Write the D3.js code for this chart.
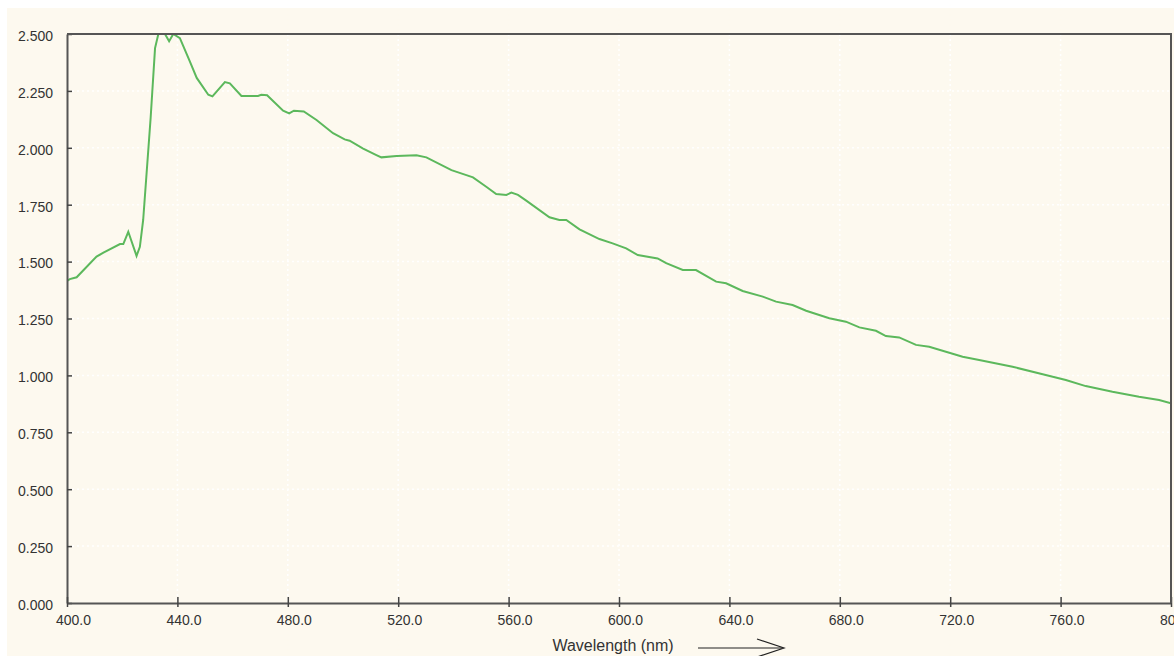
<!DOCTYPE html>
<html>
<head>
<meta charset="utf-8">
<script src="https://cdn.jsdelivr.net/npm/d3@7"></script>
<style>
  body { margin: 0; background: #ffffff; }
  svg { display: block; }
  text { font-family: "Liberation Sans", Arial, sans-serif; fill: #333333; }
</style>
</head>
<body>
<svg id="chart" width="1174" height="656"></svg>
<script>
// spectrum
var wavelengths = [400, 401, 403.5, 410.7, 413.2, 419.2, 420.4, 422.2, 425.2, 426.4, 427.6, 430.3, 431.9, 433.1,
  435.5, 437.0, 438.5, 440.9, 444.5, 447.0, 451.2, 452.7, 457.2, 459.0, 463.2, 469.2, 470.4, 472.5,
  478.3, 480.5, 482.2, 485.8, 490.4, 496.4, 500.6, 502.4, 507.3, 512.1, 513.9, 519.4, 526.6, 530.2,
  539.3, 544.7, 547.1, 551.9, 555.5, 559.2, 561.0, 563.4, 566.4, 574.8, 578.4, 580.9, 585.7, 592.9,
  597.7, 602.6, 606.8, 614.0, 617.1, 623.1, 627.9, 635.2, 638.8, 644.8, 652.1, 656.9, 662.9, 667.8,
  676.2, 682.2, 687.1, 693.1, 696.7, 701.5, 707.6, 712.4, 724.5, 730.5, 742.6, 754.6, 761.9, 769.1,
  778.8, 788.4, 795.7, 800];
var absorbance = [1.415, 1.423, 1.431, 1.522, 1.539, 1.577, 1.577, 1.631, 1.525, 1.565, 1.683, 2.131, 2.438, 2.5,
  2.5, 2.468, 2.5, 2.482, 2.380, 2.307, 2.233, 2.226, 2.289, 2.283, 2.228, 2.228, 2.233, 2.231,
  2.163, 2.151, 2.163, 2.160, 2.122, 2.064, 2.037, 2.031, 1.996, 1.968, 1.958, 1.964, 1.967, 1.958,
  1.902, 1.880, 1.870, 1.829, 1.797, 1.793, 1.803, 1.793, 1.768, 1.695, 1.683, 1.683, 1.642, 1.599,
  1.580, 1.558, 1.529, 1.514, 1.493, 1.463, 1.463, 1.412, 1.405, 1.371, 1.346, 1.324, 1.309, 1.284,
  1.251, 1.236, 1.211, 1.196, 1.173, 1.167, 1.134, 1.126, 1.082, 1.068, 1.038, 1.002, 0.980, 0.953,
  0.928, 0.906, 0.892, 0.878];

var xTicks = [400, 440, 480, 520, 560, 600, 640, 680, 720, 760, 800];
var yTicks = [0, 0.25, 0.5, 0.75, 1, 1.25, 1.5, 1.75, 2, 2.25, 2.5];
var xTitle = "Wavelength (nm)";

var svg = d3.select("#chart");
// note: not "top", that one is taken by window.top
var plotLeft = 67, plotRight = 1171, plotTop = 34, plotBottom = 603;

var x = d3.scaleLinear().domain([400, 800]).range([plotLeft, plotRight]);
var y = d3.scaleLinear().domain([0, 2.5]).range([plotBottom, plotTop]);

// cream panel
svg.append("rect")
  .attr("x", 7).attr("y", 8)
  .attr("width", 1174 - 7).attr("height", 656 - 8)
  .style("fill", "#fdf9ef");

// faint dotted grid
svg.append("g").selectAll("line").data(xTicks.slice(1, -1)).enter().append("line")
  .attr("x1", function(d) { return x(d); }).attr("x2", function(d) { return x(d); })
  .attr("y1", plotTop).attr("y2", plotBottom)
  .style("stroke", "#ffffff").style("stroke-width", 1.5).style("stroke-dasharray", "2,3");
svg.append("g").selectAll("line").data(yTicks.slice(1, -1)).enter().append("line")
  .attr("x1", plotLeft).attr("x2", plotRight)
  .attr("y1", function(d) { return y(d); }).attr("y2", function(d) { return y(d); })
  .style("stroke", "#ffffff").style("stroke-width", 1.5).style("stroke-dasharray", "2,3");

// spectrum line
var pts = wavelengths.map(function(w, i) { return [w, absorbance[i]]; });
svg.append("clipPath").attr("id", "plotclip").append("rect")
  .attr("x", plotLeft).attr("y", plotTop)
  .attr("width", plotRight - plotLeft).attr("height", plotBottom - plotTop);
svg.append("path")
  .datum(pts)
  .attr("clip-path", "url(#plotclip)")
  .attr("d", d3.line().x(function(d) { return x(d[0]); }).y(function(d) { return y(d[1]); }))
  .style("fill", "none")
  .style("stroke", "#5cb85c")
  .style("stroke-width", 2);

// axes
var yAxis = svg.append("g").attr("transform", "translate(" + plotLeft + ",0)")
  .call(d3.axisLeft(y).tickValues(yTicks).tickSizeInner(5).tickSizeOuter(0).tickPadding(9)
    .tickFormat(d3.format(".3f")));
yAxis.selectAll(".tick line").attr("x2", 5);
var xAxis = svg.append("g").attr("transform", "translate(0," + plotBottom + ")")
  .call(d3.axisBottom(x).tickValues(xTicks).tickSizeInner(4).tickSizeOuter(0).tickPadding(8)
    .tickFormat(d3.format(".1f")));
xAxis.selectAll(".tick line").attr("y1", -6);

[yAxis, xAxis].forEach(function(ax) {
  ax.select(".domain").style("stroke", "#555555").style("stroke-width", 2);
  ax.selectAll(".tick line").style("stroke", "#444444").style("stroke-width", 1.5);
  ax.selectAll(".tick text").style("font-size", "14px").style("fill", "#333333")
    .attr("font-family", null);
});
yAxis.selectAll(".tick text").attr("dy", "0.45em");
xAxis.selectAll(".tick text").attr("dx", 6);

// top and right frame
svg.append("path")
  .attr("d", "M" + plotLeft + "," + plotTop + "H" + plotRight + "V" + plotBottom)
  .style("fill", "none").style("stroke", "#555555").style("stroke-width", 2);

// axis title with arrow
svg.append("text")
  .attr("x", 613).attr("y", 651)
  .attr("text-anchor", "middle")
  .style("font-size", "16px")
  .text(xTitle);
var arrow = svg.append("g").style("stroke", "#222222").style("stroke-width", 1.2).style("fill", "none");
arrow.append("line").attr("x1", 698).attr("y1", 648).attr("x2", 783).attr("y2", 648);
arrow.append("polyline").attr("points", "757,639 784,648 757,657");
</script>
</body>
</html>
